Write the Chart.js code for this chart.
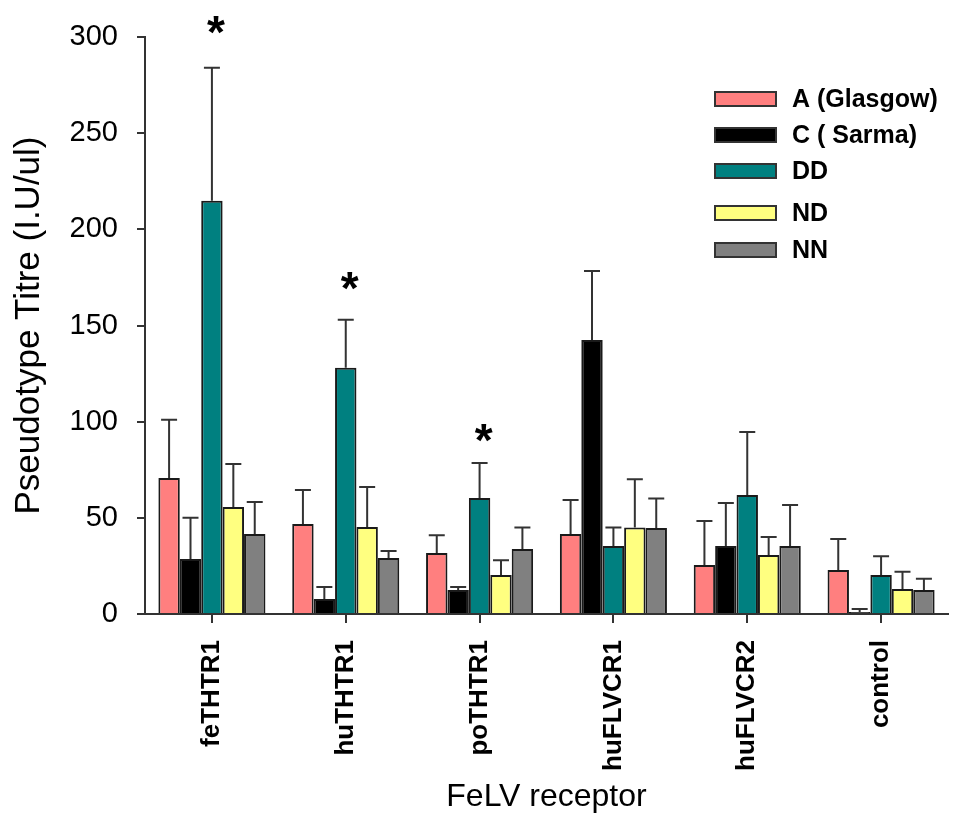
<!DOCTYPE html>
<html>
<head>
<meta charset="utf-8">
<script src="https://cdn.jsdelivr.net/npm/chart.js@4.4.1/dist/chart.umd.min.js"></script>
<style>
  html, body { margin: 0; padding: 0; background: #fff; }
  #wrap { width: 953px; height: 816px; position: relative; }
</style>
</head>
<body>
<div id="wrap"><canvas id="myChart" width="953" height="816"></canvas></div>
<script>
var categories = ["feTHTR1", "huTHTR1", "poTHTR1", "huFLVCR1", "huFLVCR2", "control"];
var seriesNames = ["A (Glasgow)", "C ( Sarma)", "DD", "ND", "NN"];

var glasgow = [70.7, 46.8, 31.7, 41.6, 25.5, 22.9];
var sarma   = [28.6, 7.8, 12.5, 142.5, 35.4, 1.0];
var dd      = [214.8, 128, 60.3, 35.4, 61.9, 20.3];
var nd      = [55.6, 45.2, 20.3, 45.0, 30.7, 13.0];
var nn      = [41.6, 29.1, 33.8, 44.7, 35.4, 12.5];

// upward error bars (SE)
var glasgowErr = [30.3, 17.7, 9.3, 17.7, 22.9, 16.1];
var sarmaErr   = [21.4, 6.2, 1.5, 35.9, 22.3, 1.6];
var ddErr      = [69.2, 25.0, 18.2, 9.6, 32.7, 9.7];
var ndErr      = [22.4, 20.8, 7.7, 25.0, 9.3, 9.0];
var nnErr      = [16.6, 3.7, 11.2, 15.3, 21.3, 5.8];

// asterisk heights (significance marks above DD bars)
var starLevel = [307, 174, 95, null, null, null];

var yTicks = [0, 50, 100, 150, 200, 250, 300];

var colors = ["#FF7F7F", "#000000", "#008080", "#FFFF80", "#808080"];
var FONT = "Arial, 'Liberation Sans', sans-serif";

var allValues = [glasgow, sarma, dd, nd, nn];
var allErrors = [glasgowErr, sarmaErr, ddErr, ndErr, nnErr];

var datasets = seriesNames.map(function(name, i) {
    return {
        label: name,
        data: allValues[i],
        errors: allErrors[i],
        backgroundColor: colors[i],
        borderColor: "#1a1a1a",
        borderWidth: 2,
        borderSkipped: "bottom",
        categoryPercentage: 0.8,
        barPercentage: 1.0
    };
});

// error bars drawn on top of the bars
var errorBars = {
    id: "errorBars",
    afterDatasetsDraw: function(chart) {
        var ctx = chart.ctx;
        var y = chart.scales.y;
        ctx.save();
        ctx.strokeStyle = "#333";
        ctx.lineWidth = 2;
        chart.data.datasets.forEach(function(ds, di) {
            var meta = chart.getDatasetMeta(di);
            meta.data.forEach(function(bar, i) {
                var top = y.getPixelForValue(ds.data[i] + ds.errors[i]);
                var base = y.getPixelForValue(ds.data[i]);
                ctx.beginPath();
                ctx.moveTo(bar.x, base);
                ctx.lineTo(bar.x, top);
                ctx.moveTo(bar.x - 8, top);
                ctx.lineTo(bar.x + 8, top);
                ctx.stroke();
            });
        });
        ctx.restore();
    }
};

// asterisks over DD bars
var stars = {
    id: "stars",
    afterDatasetsDraw: function(chart) {
        var ctx = chart.ctx;
        var y = chart.scales.y;
        var meta = chart.getDatasetMeta(2);
        ctx.save();
        ctx.fillStyle = "#000";
        ctx.font = "bold 46px " + FONT;
        ctx.textAlign = "center";
        ctx.textBaseline = "middle";
        starLevel.forEach(function(v, i) {
            if (v === null) return;
            ctx.fillText("*", meta.data[i].x + 4, y.getPixelForValue(v) + 12);
        });
        ctx.restore();
    }
};

// legend drawn in the upper right of the plot
var boxLegend = {
    id: "boxLegend",
    afterDraw: function(chart) {
        var ctx = chart.ctx;
        var rows = [99, 135, 171, 213, 250];
        ctx.save();
        ctx.font = "bold 25px " + FONT;
        ctx.textBaseline = "middle";
        seriesNames.forEach(function(name, i) {
            ctx.fillStyle = colors[i];
            ctx.fillRect(715, rows[i] - 7, 61, 14);
            ctx.strokeStyle = "#333";
            ctx.lineWidth = 2;
            ctx.strokeRect(715, rows[i] - 7, 61, 14);
            ctx.fillStyle = "#000";
            ctx.fillText(name, 792, rows[i] + 1);
        });
        ctx.restore();
    }
};

var ctx = document.getElementById("myChart");

var myBarChart = new Chart(ctx, {
    type: "bar",
    data: { labels: categories, datasets: datasets },
    plugins: [errorBars, stars, boxLegend],
    options: {
        responsive: false,
        animation: false,
        layout: { padding: { top: 37, right: 5, left: 0, bottom: 0 } },
        plugins: {
            legend: { display: false },
            tooltip: { enabled: false }
        },
        scales: {
            x: {
                offset: true,
                grid: { display: true, drawOnChartArea: false, drawTicks: true, tickLength: 9, offset: false, color: "#333", lineWidth: 2 },
                border: { display: true, color: "#333", width: 2 },
                ticks: {
                    minRotation: 90, maxRotation: 90, padding: 17,
                    color: "#000",
                    font: { family: FONT, size: 26, weight: "bold" }
                },
                title: {
                    display: true, text: "FeLV receptor", color: "#000",
                    font: { family: FONT, size: 32 }, padding: { top: 0, bottom: 0 }
                },
                afterFit: function(scale) { scale.height = 202; }
            },
            y: {
                min: 0, max: 300,
                afterBuildTicks: function(scale) {
                    scale.ticks = yTicks.map(function(v) { return { value: v }; });
                },
                grid: { display: true, drawOnChartArea: false, drawTicks: true, tickLength: 8, color: "#333", lineWidth: 2 },
                border: { display: true, color: "#333", width: 2 },
                ticks: {
                    padding: 19, color: "#000",
                    font: { family: FONT, size: 29 }
                },
                title: {
                    display: true, text: "Pseudotype Titre (I.U/ul)", color: "#000",
                    font: { family: FONT, size: 35 }, padding: { top: 8, bottom: 2 }
                },
                afterFit: function(scale) { scale.width = 145; }
            }
        }
    }
});
</script>
</body>
</html>
